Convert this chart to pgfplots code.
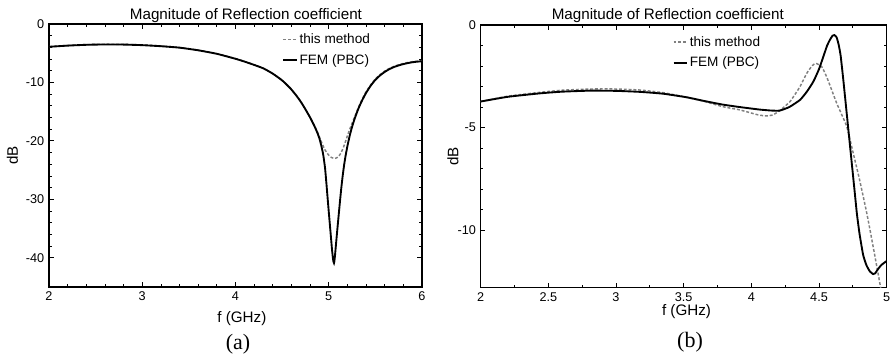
\documentclass[border=0pt]{standalone}
\usepackage{fontspec}
\setmainfont{Liberation Sans}
\newfontfamily\capfont{Liberation Serif}
\usepackage{pgfplots}
\pgfplotsset{compat=1.18}

\pgfplotstableread{
f dB
2.0 -3.9
2.2 -3.7
2.4 -3.56
2.6 -3.5
2.8 -3.52
3.0 -3.62
3.2 -3.8
3.4 -4.05
3.6 -4.5
3.8 -5.1
4.0 -5.95
4.1 -6.45
4.2 -7.0
4.3 -7.6
4.4 -8.5
4.5 -9.65
4.585 -10.95
4.65 -12.2
4.7 -13.3
4.75 -14.6
4.8 -16.0
4.85 -17.6
4.88 -18.7
4.90 -19.6
4.92 -20.8
4.94 -22.3
4.96 -24.6
4.975 -27.3
4.989 -30.0
5.0 -32.1
5.021 -36.0
5.035 -38.6
5.045 -40.1
5.051 -40.7
5.056 -40.9
5.061 -40.5
5.067 -39.6
5.077 -37.8
5.09 -35.5
5.10 -33.8
5.11 -32.1
5.12 -30.4
5.135 -28.0
5.15 -25.9
5.165 -24.1
5.18 -22.6
5.20 -20.9
5.225 -19.1
5.25 -17.6
5.28 -16.1
5.32 -14.4
5.36 -13.0
5.40 -11.8
5.45 -10.55
5.50 -9.55
5.55 -8.8
5.60 -8.2
5.65 -7.72
5.70 -7.36
5.75 -7.08
5.80 -6.86
5.85 -6.68
5.90 -6.54
5.95 -6.44
6.00 -6.38
}\femA

\pgfplotstableread{
f dB
2.0 -3.88
2.2 -3.67
2.4 -3.52
2.6 -3.46
2.8 -3.48
3.0 -3.58
3.2 -3.76
3.4 -4.02
3.6 -4.47
3.8 -5.08
4.0 -5.93
4.1 -6.43
4.2 -6.98
4.3 -7.58
4.4 -8.48
4.5 -9.62
4.585 -10.92
4.65 -12.17
4.7 -13.27
4.75 -14.57
4.8 -15.95
4.85 -17.5
4.88 -18.5
4.90 -19.3
4.93 -20.5
4.96 -21.55
5.0 -22.45
5.03 -22.85
5.067 -23.0
5.1 -22.75
5.13 -22.1
5.16 -21.0
5.19 -19.6
5.22 -18.2
5.25 -17.0
5.28 -15.8
5.32 -14.2
5.36 -12.8
5.40 -11.6
5.45 -10.4
5.50 -9.4
5.55 -8.65
5.60 -8.05
5.65 -7.6
5.70 -7.25
5.75 -6.98
5.80 -6.76
5.85 -6.58
5.90 -6.45
5.95 -6.36
6.00 -6.3
}\thisA

\pgfplotstableread{
f dB
2.0 -3.73
2.2 -3.5
2.44 -3.33
2.6 -3.25
2.81 -3.2
3.0 -3.21
3.18 -3.26
3.35 -3.35
3.52 -3.52
3.65 -3.7
3.79 -3.88
3.916 -4.0
4.06 -4.12
4.15 -4.17
4.21 -4.17
4.28 -4.0
4.36 -3.65
4.41 -3.25
4.458 -2.76
4.5 -2.15
4.532 -1.54
4.56 -1.0
4.58 -0.73
4.60 -0.52
4.613 -0.49
4.63 -0.6
4.645 -0.95
4.66 -1.5
4.68 -2.7
4.70 -4.0
4.72 -5.3
4.74 -6.6
4.76 -7.9
4.78 -9.2
4.80 -10.2
4.826 -11.2
4.85 -11.7
4.875 -12.0
4.90 -12.14
4.915 -12.1
4.93 -11.95
4.96 -11.7
5.00 -11.5
}\femB

\pgfplotstableread{
f dB
2.0 -3.73
2.2 -3.47
2.44 -3.28
2.6 -3.18
2.81 -3.12
3.0 -3.12
3.18 -3.17
3.35 -3.3
3.52 -3.52
3.65 -3.72
3.79 -3.98
3.916 -4.14
4.05 -4.38
4.113 -4.43
4.16 -4.38
4.21 -4.17
4.286 -3.73
4.36 -3.0
4.41 -2.35
4.45 -1.98
4.478 -1.87
4.52 -2.03
4.556 -2.52
4.59 -3.1
4.63 -3.8
4.67 -4.4
4.705 -4.95
4.753 -6.25
4.8 -7.55
4.853 -9.17
4.9 -10.8
4.95 -12.6
5.0 -14.5
}\thisB

\pgfplotsset{
  every axis/.append style={
    scale only axis,
    axis line style={line width=0.9pt},
    tick style={black, line width=0.6pt},
    major tick length=3.4pt,
    minor tick length=2pt,
    tick align=inside,
    xtick pos=both, ytick pos=both,
    ticklabel style={font=\fontsize{9.5}{11}\selectfont},
    every axis title/.style={font=\fontsize{11.4}{13}\selectfont, anchor=base},
    xlabel style={font=\fontsize{11.4}{13}\selectfont, anchor=base},
    ylabel style={font=\fontsize{11.4}{13}\selectfont, anchor=center},
    legend style={draw=none, fill=none, font=\fontsize{10.2}{12}\selectfont,
      anchor=north west, inner sep=0pt, row sep=3.5pt,
      nodes={inner sep=1.5pt}},
    legend cell align=left,
    legend image code/.code={\draw[#1] (0pt,0pt) -- (10pt,0pt);},
    clip=true,
  },
  fem/.style={black, line width=1.4pt, smooth, tension=0.3},
  thism/.style={gray, line width=1.1pt, dash pattern=on 2.2pt off 1.4pt, smooth, tension=0.3},
}

\begin{document}
\begin{tikzpicture}
\path[use as bounding box] (0pt,0pt) rectangle (668.25pt,267.75pt);

% (a)
\begin{axis}[
  at={(36.75pt,52.5pt)}, anchor=south west,
  width=279.75pt, height=197.25pt,
  xmin=2, xmax=6, ymin=-45, ymax=0,
  xtick={2,3,4,5,6}, xticklabels={2,3,4,5,6},
  minor x tick num=4,
  ytick={-40,-30,-20,-10,0}, yticklabels={-40,-30,-20,-10,0},
  minor y tick num=4,
  title={Magnitude of Reflection coefficient},
  title style={at={(axis description cs:0.528,1)}, yshift=3.75pt},
  xlabel={f (GHz)},
  xlabel style={at={(axis description cs:0.517,0)}, yshift=-26.8pt},
  ylabel={dB},
  ylabel style={at={(axis description cs:0,0.5)}, yshift=27.4pt},
  legend style={at={(axis description cs:0.625,0.972)}},
]
\addplot[thism] table[x=f,y=dB] {\thisA};
\addlegendentry{this method}
\addplot[fem] table[x=f,y=dB] {\femA};
\addlegendentry{FEM (PBC)}
\end{axis}

% (b)
\begin{axis}[
  at={(360.5pt,52pt)}, anchor=south west,
  width=304.5pt, height=197pt,
  xmin=2, xmax=5, ymin=-12.8, ymax=0,
  xtick={2,2.5,3,3.5,4,4.5,5}, xticklabels={2,2.5,3,3.5,4,4.5,5},
  minor x tick num=1,
  ytick={-10,-5,0}, yticklabels={-10,-5,0},
  minor y tick num=4,
  title={Magnitude of Reflection coefficient},
  title style={at={(axis description cs:0.461,1)}, yshift=3.75pt},
  xlabel={f (GHz)},
  xlabel style={at={(axis description cs:0.507,0)}, yshift=-21.2pt},
  ylabel={dB},
  ylabel style={at={(axis description cs:0,0.5)}, yshift=20.8pt},
  legend style={at={(axis description cs:0.472,0.966)}},
]
\addplot[thism] table[x=f,y=dB] {\thisB};
\addlegendentry{this method}
\addplot[fem] table[x=f,y=dB] {\femB};
\addlegendentry{FEM (PBC)}
\end{axis}

\node[anchor=base, font=\capfont\fontsize{16.5}{18}\selectfont] at (178.5pt,6pt) {(a)};
\node[anchor=base, font=\capfont\fontsize{16.5}{18}\selectfont] at (517.5pt,7.5pt) {(b)};
\end{tikzpicture}
\end{document}
